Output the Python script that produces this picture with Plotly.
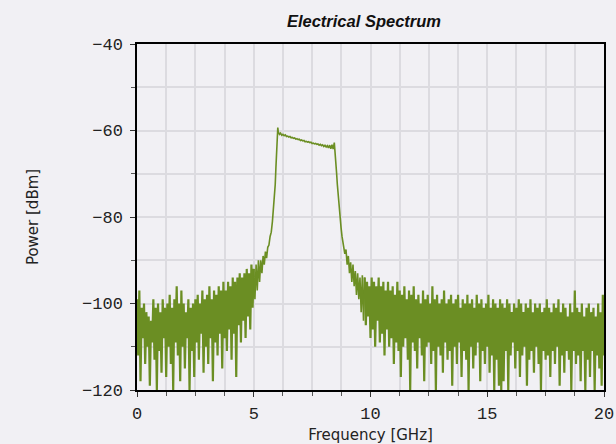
import numpy as np
import plotly.graph_objects as go

# ---------------- data ----------------
# noise floor below the signal band, sampled every 0.05 GHz from 0 to 5 GHz
floor_left_start, floor_left_stop = 0.0, 5.0
floor_left_dbm = [
    -99, -112, -97, -118, -101, -108, -100, -114, -102, -110,
    -103, -119, -104, -109, -99, -113, -101, -120, -100, -111,
    -102, -116, -99, -108, -101, -117, -100, -110, -98, -114,
    -101, -120, -99, -109, -96, -112, -100, -118, -97, -110,
    -100, -115, -102, -108, -99, -120, -101, -111, -100, -117,
    -99, -109, -98, -113, -100, -107, -97, -116, -99, -110,
    -98, -114, -96, -108, -99, -118, -97, -109, -98, -112,
    -96, -107, -97, -115, -95, -108, -97, -111, -95, -106,
    -96, -113, -94, -107, -95, -117, -94, -105, -93, -109,
    -94, -104, -93, -108, -92, -103, -93, -106, -91, -101,
    -92,
]

# rising edge of the signal band
rise_ghz = [5.00, 5.05, 5.10, 5.15, 5.20, 5.25, 5.30, 5.35, 5.40, 5.45, 5.50, 5.55, 5.60,
            5.65, 5.70, 5.75, 5.80, 5.84, 5.88, 5.92, 5.95, 5.98, 6.00, 6.02, 6.03]
rise_dbm = [-92, -99, -91, -97, -90, -95, -90, -93, -89, -91, -88, -89.5, -87,
            -86.5, -84.5, -83.5, -81, -78.5, -75.5, -72.5, -68.5, -64, -61.5, -60, -59.3]

# flat top of the signal band, every 0.05 GHz from 6.05 to 8.45 GHz
plateau_start, plateau_stop = 6.05, 8.45
plateau_dbm = [
    -60.3, -60.9, -60.6, -61.1, -60.9, -61.2, -61.0, -61.4, -61.3, -61.5,
    -61.4, -61.7, -61.6, -61.8, -61.7, -62.0, -61.9, -62.1, -62.0, -62.3,
    -62.2, -62.4, -62.3, -62.6, -62.5, -62.7, -62.6, -62.8, -62.7, -63.0,
    -62.9, -63.1, -63.0, -63.2, -63.1, -63.4, -63.2, -63.5, -63.3, -63.7,
    -63.4, -63.8, -63.5, -64.0, -63.4, -64.2, -63.3, -64.3, -62.8,
]

# falling edge of the signal band
fall_ghz = [8.48, 8.52, 8.55, 8.58, 8.62, 8.66, 8.70, 8.74, 8.78, 8.82, 8.86, 8.90, 8.95, 9.00,
            9.05, 9.10, 9.15, 9.20, 9.25, 9.30, 9.35, 9.40, 9.45, 9.50, 9.55, 9.60, 9.65, 9.70,
            9.75]
fall_dbm = [-64.5, -67, -70, -72.5, -75.5, -78, -80, -82.5, -84.5, -86, -87, -88.5, -87.5, -91,
            -89, -93, -90.5, -95, -91, -96, -92.5, -98, -93, -99, -94, -102, -93.5, -104,
            -94]

# noise floor above the signal band, every 0.05 GHz from 9.75 to 20 GHz
floor_right_start, floor_right_stop = 9.75, 20.0
floor_right_dbm = [
    -94, -105, -95, -103, -96, -108, -94, -106, -95, -110,
    -96, -104, -94, -109, -96, -107, -95, -112, -97, -106,
    -95, -110, -97, -108, -96, -114, -98, -109, -95, -111,
    -97, -117, -98, -110, -96, -108, -99, -113, -97, -120,
    -98, -109, -96, -111, -99, -115, -98, -108, -100, -112,
    -97, -118, -99, -110, -98, -109, -100, -114, -96, -111,
    -99, -120, -98, -110, -100, -112, -99, -116, -97, -109,
    -100, -113, -99, -111, -98, -119, -100, -110, -99, -114,
    -98, -109, -101, -117, -99, -111, -100, -113, -98, -120,
    -100, -110, -99, -115, -101, -112, -98, -109, -100, -118,
    -99, -111, -101, -114, -100, -110, -98, -116, -101, -112,
    -99, -120, -100, -113, -101, -119, -99, -120, -100, -118,
    -101, -111, -99, -120, -100, -112, -102, -109, -100, -115,
    -101, -111, -99, -117, -100, -112, -102, -110, -100, -119,
    -101, -113, -99, -111, -102, -116, -100, -110, -101, -114,
    -100, -120, -102, -111, -101, -113, -99, -112, -101, -117,
    -102, -111, -100, -114, -101, -110, -99, -119, -102, -112,
    -100, -116, -101, -111, -103, -113, -100, -120, -102, -111,
    -97, -114, -101, -112, -102, -118, -100, -111, -103, -120,
    -101, -113, -100, -117, -102, -111, -101, -120, -103, -112,
    -100, -115, -102, -119, -98, -112,
]

x_tick_vals = [0, 5, 10, 15, 20]
y_tick_vals = [-120, -100, -80, -60, -40]

# ---------------- assemble the sampled traces ----------------
def grid(start, stop, n):
    return list(np.round(np.linspace(start, stop, n), 3))

floor_left_ghz = grid(floor_left_start, floor_left_stop, len(floor_left_dbm))
plateau_ghz = grid(plateau_start, plateau_stop, len(plateau_dbm))
floor_right_ghz = grid(floor_right_start, floor_right_stop, len(floor_right_dbm))

signal_ghz = rise_ghz + plateau_ghz + fall_ghz
signal_dbm = rise_dbm + plateau_dbm + fall_dbm

BG = "#f1f0f4"
GRID = "#dcdbe0"
GREEN = "#6b8e23"

fig = go.Figure()
for xs, ys, w in [(floor_left_ghz, floor_left_dbm, 2.2),
                  (signal_ghz, signal_dbm, 1.6),
                  (floor_right_ghz, floor_right_dbm, 2.2)]:
    fig.add_trace(go.Scatter(x=xs, y=ys, mode="lines",
                             line=dict(color=GREEN, width=w), hoverinfo="skip",
                             showlegend=False))

tickfont = dict(family="Liberation Mono", size=17, color="#222222")
labelfont = dict(family="DejaVu Sans", size=15, color="#222222")
fig.update_layout(
    width=616, height=444,
    margin=dict(l=137, r=12, t=44, b=54),
    paper_bgcolor=BG, plot_bgcolor=BG,
    title=dict(text="<b><i>Electrical Spectrum</i></b>", x=441 / 616, xanchor="right",
               y=1 - 21 / 444, yanchor="middle",
               font=dict(family="Liberation Sans", size=16.5, color="#111111")),
    xaxis=dict(range=[0, 20], tickvals=x_tick_vals, ticks="outside", ticklen=5,
               tickcolor="#333333", tickfont=tickfont, automargin=False,
               ticklabelstandoff=2,
               showgrid=True, gridcolor=GRID, gridwidth=1.5,
               minor=dict(dtick=1.25, tick0=0, ticks="outside", ticklen=4,
                          tickcolor="#555555", showgrid=True, gridcolor=GRID, gridwidth=1.5),
               showline=True, linecolor="black", linewidth=1.5, mirror=True,
               zeroline=False,
               title=dict(text="Frequency [GHz]", standoff=8, font=labelfont)),
    yaxis=dict(range=[-120, -40], tickvals=y_tick_vals, ticks="outside", ticklen=5,
               tickcolor="#333333", tickfont=tickfont, automargin=False,
               ticklabelstandoff=4,
               showgrid=True, gridcolor=GRID, gridwidth=1.5,
               minor=dict(dtick=10, tick0=-120, ticks="outside", ticklen=4,
                          tickcolor="#555555", showgrid=True, gridcolor=GRID, gridwidth=1.5),
               showline=True, linecolor="black", linewidth=1.5, mirror=True,
               zeroline=False,
               title=dict(text="Power [dBm]", standoff=40, font=labelfont)),
)

fig.write_html("out.html", config={"displayModeBar": False},
               post_script="document.body.style.margin='0';"
                           "document.body.style.background='" + BG + "';"
                           "document.body.style.overflow='hidden';")
